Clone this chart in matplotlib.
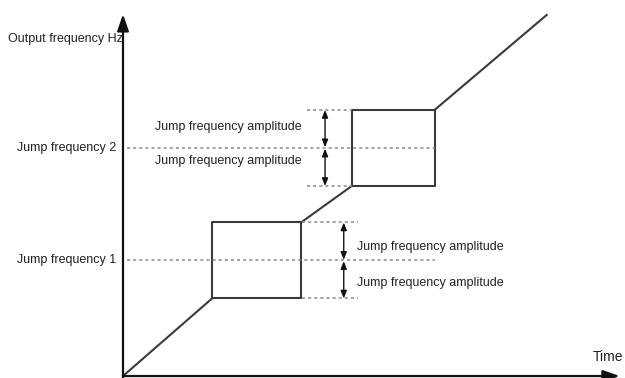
import matplotlib.pyplot as plt

plt.rcParams['font.family'] = ['Liberation Sans', 'DejaVu Sans']

# jump frequencies and their amplitude (frequency units)
jump_labels = ['Jump frequency 1', 'Jump frequency 2']
jump_freqs = [15.2, 30]
jump_amp = 5

# time span of the flat "jump" box for each jump frequency
box_start = [10, 25.7]
box_end = [20, 35]

# where the ramp ends after the second jump
ramp_end_time = 47.6
ramp_end_freq = 47.5

# where the amplitude arrows sit and how far the short dotted marks run
arrow_time = [24.8, 22.7]
amp_mark_from = [20.1, 20.7]
amp_mark_to = [26.4, 25.7]

line_col = '#3a3a3a'
dot_col = '#8a8a8a'
txt_col = '#222222'

fig = plt.figure(figsize=(6.25, 3.78), dpi=100)
ax = fig.add_axes([0, 0, 1, 1])
ax.set_xlim(-13.82, 56.4)
ax.set_ylim(-0.26, 49.47)
ax.axis('off')

# axes with arrows
ax.annotate('', xy=(0, 47.6), xytext=(0, -0.3),
            arrowprops=dict(arrowstyle='-|>,head_length=1.0,head_width=0.35',
                            color='#111111', lw=1.6, shrinkA=0, shrinkB=0))
ax.annotate('', xy=(55.8, 0), xytext=(0, 0),
            arrowprops=dict(arrowstyle='-|>,head_length=1.0,head_width=0.35',
                            color='#111111', lw=1.6, shrinkA=0, shrinkB=0))
ax.text(-12.9, 44.3, 'Output frequency Hz', fontsize=9, va='center', ha='left', color=txt_col)
ax.text(56.25, 2.45, 'Time', fontsize=10, va='center', ha='right', color=txt_col)

# ramp: origin -> box1 -> box2 -> end
lo = [f - jump_amp for f in jump_freqs]
hi = [f + jump_amp for f in jump_freqs]
ax.plot([0, box_start[0]], [0, lo[0]], color=line_col, lw=1.5)
ax.plot([box_end[0], box_start[1]], [hi[0], lo[1]], color=line_col, lw=1.5)
ax.plot([box_end[1], ramp_end_time], [hi[1], ramp_end_freq], color=line_col, lw=1.5)
for i in range(2):
    ax.plot([box_start[i], box_start[i], box_end[i], box_end[i], box_start[i]],
            [lo[i], hi[i], hi[i], lo[i], lo[i]], color=line_col, lw=1.5)

# jump frequency dotted lines, labels and amplitude arrows
for i in range(2):
    ax.plot([0.5, box_end[1]], [jump_freqs[i], jump_freqs[i]], color=dot_col,
            lw=1.1, dashes=(2, 2))
    ax.text(-0.8, jump_freqs[i], jump_labels[i], fontsize=9, ha='right', va='center', color=txt_col)
    for y in (lo[i], hi[i]):
        ax.plot([amp_mark_from[i], amp_mark_to[i]], [y, y], color=dot_col, lw=1.1, dashes=(2, 2))
        ax.annotate('', xy=(arrow_time[i], y), xytext=(arrow_time[i], jump_freqs[i]),
                    arrowprops=dict(arrowstyle='<|-|>,head_length=0.45,head_width=0.18',
                                    color='#111111', lw=1.0, shrinkA=0.5, shrinkB=0))

# amplitude texts
for y in (32.8, 28.3):
    ax.text(20.1, y, 'Jump frequency amplitude', fontsize=9, ha='right', va='center', color=txt_col)
for y in (17.0, 12.2):
    ax.text(26.3, y, 'Jump frequency amplitude', fontsize=9, ha='left', va='center', color=txt_col)

plt.savefig('out.png')
plt.close()
